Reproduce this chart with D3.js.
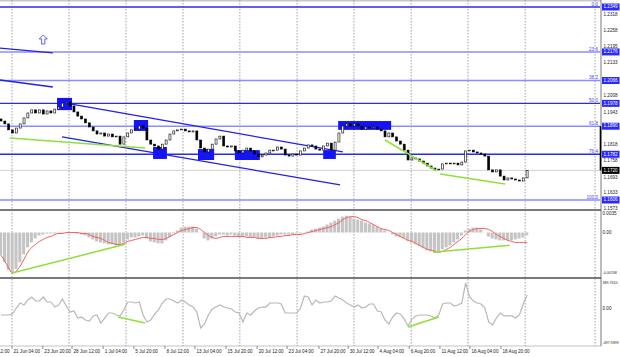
<!DOCTYPE html>
<html><head><meta charset="utf-8">
<script src="https://cdn.jsdelivr.net/npm/d3@7"></script>
<style>body{margin:0;background:#fff}svg{display:block}text{font-family:"Liberation Sans",Arial,sans-serif}</style>
</head><body><svg id="c" width="620" height="357"></svg>
<script>
// ---- data (H4 chart, one value per 2 bars) ----
const firstOpen = 1.1918;
const closes = [1.1910,1.1899,1.1876,1.1864,1.1883,1.1899,1.1922,1.1941,1.1953,1.1941,
1.1953,1.1937,1.1949,1.1941,1.1956,1.1964,1.1979,1.1983,1.1968,1.1945,
1.1929,1.1918,1.1903,1.1887,1.1872,1.1860,1.1864,1.1852,1.1860,1.1849,
1.1852,1.1821,1.1849,1.1864,1.1876,1.1879,1.1891,1.1883,1.1837,1.1821,
1.1814,1.1802,1.1821,1.1837,1.1860,1.1872,1.1876,1.1879,1.1872,1.1868,
1.1872,1.1837,1.1806,1.1791,1.1802,1.1821,1.1841,1.1852,1.1814,1.1810,
1.1814,1.1795,1.1787,1.1798,1.1806,1.1795,1.1783,1.1772,1.1779,1.1787,
1.1798,1.1798,1.1810,1.1802,1.1779,1.1775,1.1783,1.1779,1.1795,1.1806,
1.1818,1.1814,1.1802,1.1798,1.1814,1.1825,1.1798,1.1829,1.1864,1.1891,
1.1899,1.1891,1.1899,1.1891,1.1879,1.1887,1.1883,1.1887,1.1879,1.1872,
1.1849,1.1864,1.1849,1.1833,1.1821,1.1798,1.1760,1.1768,1.1764,1.1756,
1.1748,1.1737,1.1729,1.1722,1.1725,1.1745,1.1748,1.1745,1.1748,1.1741,
1.1752,1.1795,1.1798,1.1791,1.1787,1.1783,1.1775,1.1722,1.1714,1.1722,
1.1698,1.1683,1.1691,1.1687,1.1683,1.1679,1.1691,1.1720];
// MACD histogram and signal, in units of 1e-4
const macdHist = [-38.8,-50.6,-64.1,-67.4,-62.4,-50.6,-37.1,-25.3,-16.9,-10.1,
-5.1,-3.4,-1.7,-1.7,-1.7,-1.7,-0.8,-0.5,-0.5,-0.5,
-1.7,-3.4,-5.1,-8.4,-11.8,-15.2,-16.9,-18.5,-20.2,-20.2,
-21.9,-21.9,-16.9,-11.8,-8.4,-8.4,-6.7,-5.1,-10.1,-15.2,
-16.9,-18.5,-18.5,-13.5,-8.4,-1.7,3.4,8.4,10.1,10.1,
10.1,6.7,0.3,-10.1,-13.5,-10.1,-6.7,-3.4,-3.4,-5.1,
-3.4,-5.1,-6.7,-6.7,-6.7,-8.4,-8.4,-10.1,-10.1,-8.4,
-8.4,-6.7,-5.1,-3.4,-3.4,-3.4,-3.4,-1.7,-1.7,-0.3,
1.7,5.1,6.7,8.4,10.1,13.5,16.9,20.2,23.6,27.0,
28.7,27.0,23.6,21.9,20.2,16.9,15.2,13.5,10.1,6.7,
3.4,0.3,-3.4,-6.7,-8.4,-10.1,-13.5,-16.9,-20.2,-23.6,
-27.0,-30.3,-32.0,-33.7,-32.0,-28.7,-25.3,-21.9,-16.9,-11.8,
-5.1,3.4,6.7,8.4,8.4,5.1,-0.3,-6.7,-10.1,-11.8,
-13.5,-13.5,-13.5,-13.5,-11.8,-10.1,-8.4,-5.1];
const macdSignal = [-38.8,-48.9,-60.7,-69.1,-65.8,-57.3,-45.5,-33.7,-25.3,-20.2,
-15.2,-11.8,-8.4,-6.7,-3.4,-1.7,-1.7,0,0,0,
0,-1.7,-1.7,-3.4,-6.7,-8.4,-10.1,-13.5,-16.9,-18.5,
-20.2,-20.2,-18.5,-15.2,-13.5,-11.8,-10.1,-8.4,-8.4,-10.1,
-10.1,-11.8,-11.8,-10.1,-6.7,-3.4,0,3.4,5.1,6.7,
8.4,8.4,5.1,0,-5.1,-8.4,-10.1,-8.4,-6.7,-6.7,
-6.7,-6.7,-6.7,-6.7,-8.4,-8.4,-8.4,-10.1,-10.1,-10.1,
-8.4,-8.4,-6.7,-6.7,-5.1,-5.1,-3.4,-3.4,-3.4,-1.7,
0,1.7,3.4,5.1,6.7,8.4,10.1,13.5,16.9,21.9,
25.3,27.0,27.0,25.3,21.9,20.2,16.9,13.5,10.1,6.7,
5.1,3.4,0,-3.4,-6.7,-10.1,-13.5,-15.2,-18.5,-21.9,
-25.3,-28.7,-30.3,-32.0,-33.7,-32.0,-28.7,-25.3,-20.2,-15.2,
-10.1,-3.4,1.7,5.1,6.7,6.7,6.7,5.1,1.7,-3.4,
-6.7,-10.1,-13.5,-15.2,-16.9,-16.9,-16.9,-16.9];
const cci = [-89,-89,-89,-75,9,80,52,122,164,108,
108,164,94,94,23,52,136,37,-47,-33,
-132,-117,-160,-174,-103,-89,-202,-132,-61,-61,
-89,-103,-19,94,94,80,94,-89,-188,-160,
-75,-19,80,136,136,108,80,122,94,52,
23,-47,-272,-216,-89,-5,23,52,23,9,
-5,-47,-61,-188,-61,-89,-33,9,23,23,
80,80,80,66,-61,-61,-61,-61,9,178,
164,52,122,80,94,94,108,178,150,122,
80,52,23,52,9,23,66,66,-33,-47,
-160,-216,-117,-61,-75,-146,-244,-146,-103,-89,
-89,-89,-103,-132,-89,66,80,80,37,52,
80,362,164,108,80,66,9,-188,-230,-132,
-61,-103,-103,-103,-132,-89,66,192];

const fibNames  = ["0.0","23.6","38.2","50.0","61.8","76.4","100.0"];
const fibPrices = [1.2349,1.2176,1.2066,1.1978,1.1890,1.1782,1.1606];
const fibStrong = [true,false,false,true,false,true,false];
const priceTicks = [1.2318,1.2258,1.2195,1.2133,1.2008,1.1943,1.1818,1.1758,1.1693,1.1633,1.1573];
const timeLabels = ["16 Jun 12:00","21 Jun 04:00","23 Jun 20:00","28 Jun 12:00","1 Jul 04:00","5 Jul 20:00","8 Jul 12:00","13 Jul 04:00","15 Jul 20:00","20 Jul 12:00","23 Jul 04:00","27 Jul 20:00","30 Jul 12:00","4 Aug 04:00","6 Aug 20:00","11 Aug 12:00","16 Aug 04:00","18 Aug 20:00"];
const timeIdx = [-5.1,2.86,10.9,18.5,26.6,34.6,42.7,50.5,58.6,66.7,74.5,82.8,90.4,98.2,106.3,114.3,122.1,130.2];
const gridIdx = [2.86,17.7,32.55,47.4,62.2,77.1,91.9,106.8,121.6,136.5,154.7];
// drawing objects: [index, price] pairs
const channelLines = [[[18,1.1976],[89,1.1791]],[[15.9,1.1849],[88.3,1.1664]],
  [[-0.3,1.2191],[13.5,1.2172]],[[-0.3,1.2068],[13.5,1.2041]]];
const greenMain = [[[2.3,1.1845],[37.5,1.1806]],[[100,1.1837],[113.5,1.1718]],[[114.3,1.1706],[131.3,1.1668]]];
const greenMacd = [[[2.9,-69.1],[32.3,-20.2]],[[112.5,-33.7],[132.5,-21.9]]];
const greenCci = [[[30.5,-117],[37.5,-202]],[[106,-258],[114,-117]]];
const boxes = [[14.6,18.5,1.1999,1.1952],[34.6,38.3,1.1914,1.1872],[39.6,43.2,1.1810,1.1764],
  [51.3,55.5,1.1802,1.1760],[60.9,67.4,1.1798,1.1760],[83.9,87.2,1.1798,1.1764],[87.8,101.6,1.1910,1.1876]];
const arrowAt = [11,1.2222];

// ---- scales ----
const svg = d3.select("#c");
const x  = d3.scaleLinear().domain([0,137]).range([1,527.1]);
const yP = d3.scaleLinear().domain([1.1606,1.2349]).range([200,7]);
const yM = d3.scaleLinear().domain([-0.00708,0.0035]).range([274,212]);
const yC = d3.scaleLinear().domain([-497.9399,389.7610]).range([344,281]);
const AX = 601;
const step = x(1)-x(0);

const defs = svg.append("defs");
[["cm",0,209],["cd",211,66],["cc",279,66]].forEach(([id,y0,h])=>{
  defs.append("clipPath").attr("id",id).append("rect").attr("x",0).attr("y",y0).attr("width",AX-1).attr("height",h);
});

svg.append("rect").attr("x",0).attr("y",0).attr("width",AX).attr("height",1.5).attr("fill","#c8c8c8");

svg.append("g").selectAll("line").data(gridIdx).join("line")
  .attr("x1",d=>x(d)).attr("x2",d=>x(d)).attr("y1",0).attr("y2",346)
  .attr("stroke","#8c8c8c").attr("stroke-width",0.8).attr("stroke-dasharray","1.5,1.5");

const gm = svg.append("g").attr("clip-path","url(#cm)");
gm.selectAll("line.fib").data(fibPrices).join("line")
  .attr("x1",0).attr("x2",AX).attr("y1",d=>yP(d)).attr("y2",d=>yP(d))
  .attr("stroke",(d,i)=>fibStrong[i]?"#2b2bf0":"#8c8cff")
  .attr("stroke-width",(d,i)=>fibStrong[i]?1.4:1.6);
const last = closes[closes.length-1];
gm.append("line").attr("x1",0).attr("x2",AX).attr("y1",yP(last)).attr("y2",yP(last))
  .attr("stroke","#c8c8c8").attr("stroke-width",0.8);
gm.selectAll("line.ch").data(channelLines).join("line")
  .attr("x1",d=>x(d[0][0])).attr("y1",d=>yP(d[0][1])).attr("x2",d=>x(d[1][0])).attr("y2",d=>yP(d[1][1]))
  .attr("stroke","#2020e8").attr("stroke-width",1.3);
gm.selectAll("rect.bx").data(boxes).join("rect")
  .attr("x",d=>x(d[0])).attr("width",d=>x(d[1])-x(d[0]))
  .attr("y",d=>yP(d[2])).attr("height",d=>yP(d[3])-yP(d[2]))
  .attr("fill","#1414f5");
const cg = gm.append("g");
closes.forEach((c,i)=>{
  const o = i ? closes[i-1] : firstOpen;
  const top = yP(Math.max(o,c)), bot = yP(Math.min(o,c));
  cg.append("rect").attr("x",x(i)-1).attr("width",2)
    .attr("y",top).attr("height",Math.max(0.8,bot-top))
    .attr("fill",c>=o?"#ffffff":"#000000").attr("stroke","#000").attr("stroke-width",0.6);
});
gm.selectAll("line.g").data(greenMain).join("line")
  .attr("x1",d=>x(d[0][0])).attr("y1",d=>yP(d[0][1])).attr("x2",d=>x(d[1][0])).attr("y2",d=>yP(d[1][1]))
  .attr("stroke","#8ee03a").attr("stroke-width",1.5);
gm.append("path").attr("transform",`translate(${x(arrowAt[0])},${yP(arrowAt[1])})`)
  .attr("d","M0,-5L4,-1L1.6,-1L1.6,4L-1.6,4L-1.6,-1L-4,-1Z")
  .attr("fill","#fff").attr("stroke","#3a3aff").attr("stroke-width",0.8);
svg.append("g").selectAll("text").data(fibPrices).join("text")
  .attr("x",598).attr("y",d=>yP(d)-1.2).attr("text-anchor","end")
  .attr("font-size",4.6).attr("fill","#4646ff").text((d,i)=>fibNames[i]);

[210,278].forEach(yy=>{
  svg.append("line").attr("x1",0).attr("x2",AX).attr("y1",yy).attr("y2",yy).attr("stroke","#7a7a7a").attr("stroke-width",1.8);
});
svg.append("line").attr("x1",0).attr("x2",AX).attr("y1",346).attr("y2",346).attr("stroke","#9a9a9a").attr("stroke-width",0.6);

// MACD
const gd = svg.append("g").attr("clip-path","url(#cd)");
gd.selectAll("rect").data(macdHist).join("rect")
  .attr("x",(d,i)=>x(i)-step/2).attr("width",step*0.8)
  .attr("y",d=>yM(Math.max(0,d*1e-4))).attr("height",d=>Math.abs(yM(d*1e-4)-yM(0)))
  .attr("fill","#c4c4c4");
gd.append("path").datum(macdSignal).attr("fill","none").attr("stroke","#f26060").attr("stroke-width",1)
  .attr("d",d3.line().x((d,i)=>x(i)).y(d=>yM(d*1e-4)).curve(d3.curveMonotoneX));
gd.selectAll("line.g").data(greenMacd).join("line")
  .attr("x1",d=>x(d[0][0])).attr("y1",d=>yM(d[0][1]*1e-4)).attr("x2",d=>x(d[1][0])).attr("y2",d=>yM(d[1][1]*1e-4))
  .attr("stroke","#8ee03a").attr("stroke-width",1.5);

// CCI
const gc = svg.append("g").attr("clip-path","url(#cc)");
gc.append("path").datum(cci).attr("fill","none").attr("stroke","#b8b8b8").attr("stroke-width",1.2)
  .attr("d",d3.line().x((d,i)=>x(i)).y(d=>yC(d)));
gc.selectAll("line.g").data(greenCci).join("line")
  .attr("x1",d=>x(d[0][0])).attr("y1",d=>yC(d[0][1])).attr("x2",d=>x(d[1][0])).attr("y2",d=>yC(d[1][1]))
  .attr("stroke","#8ee03a").attr("stroke-width",1.5);

// right axis
svg.append("line").attr("x1",AX).attr("x2",AX).attr("y1",0).attr("y2",346).attr("stroke","#555").attr("stroke-width",0.8);
svg.append("line").attr("x1",AX-0.5).attr("x2",AX-0.5).attr("y1",yP(1.1890)).attr("y2",yP(last)).attr("stroke","#000").attr("stroke-width",1.6);
const ra = svg.append("g").attr("font-size",4.6);
priceTicks.forEach(p=>{
  ra.append("text").attr("x",AX+2.5).attr("y",yP(p)).attr("dominant-baseline","middle").attr("fill","#222").text(p.toFixed(4));
});
fibPrices.forEach(p=>{
  ra.append("rect").attr("x",AX+1).attr("y",yP(p)-3.5).attr("width",17.5).attr("height",7).attr("fill","#2a2aff");
  ra.append("text").attr("x",AX+2.5).attr("y",yP(p)).attr("dominant-baseline","middle").attr("fill","#fff").text(p.toFixed(4));
});
ra.append("rect").attr("x",AX+1).attr("y",yP(last)-3.5).attr("width",17.5).attr("height",7).attr("fill","#000");
ra.append("text").attr("x",AX+2.5).attr("y",yP(last)).attr("dominant-baseline","middle").attr("fill","#fff").text(last.toFixed(4));
[[yM(0.0035)+2.2,"0.0035"],[yM(0),"0.00"],[yM(-0.00708)-0.5,"-0.00708"],[yC(389.761)+2,"389.7610"],[yC(0),"0.00"],[yC(-497.9399)-1,"-497.9399"]]
  .forEach(([yy,t])=>{
    ra.append("text").attr("x",AX+1.5).attr("y",yy).attr("dominant-baseline","middle")
      .attr("font-size",t.length>6?3.6:4.6).attr("fill","#222").text(t);
  });

// time axis
const ta = svg.append("g").attr("font-size",4.6).attr("fill","#222");
timeLabels.forEach((t,i)=>{
  const xx = x(timeIdx[i]);
  ta.append("line").attr("x1",xx).attr("x2",xx).attr("y1",346).attr("y2",349).attr("stroke","#444").attr("stroke-width",0.6);
  ta.append("text").attr("x",xx+1.5).attr("y",352.5).text(t);
});
</script></body></html>
